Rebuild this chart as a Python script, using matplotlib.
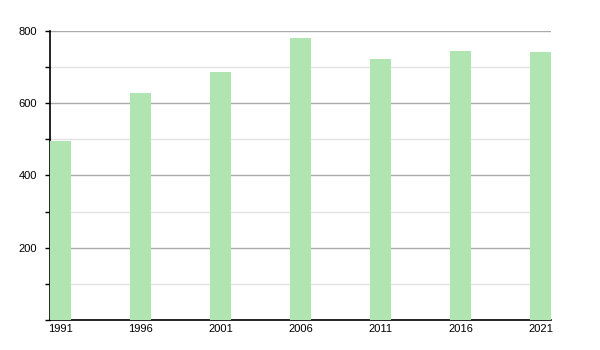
import matplotlib.pyplot as plt
from matplotlib.ticker import MultipleLocator

years = [1991, 1996, 2001, 2006, 2011, 2016, 2021]
population = [495, 628, 686, 781, 722, 745, 741]

plt.rcParams['font.family'] = ['Liberation Sans', 'DejaVu Sans']
plt.rcParams['font.size'] = 8

fig = plt.figure(figsize=(6, 3.5), dpi=100)
ax = fig.add_axes([50 / 600, 1 - 320 / 350, 501 / 600, 289.3 / 350])

bar_w = 21 / 16
ax.bar(years, population, width=bar_w, color='#b0e4b0', zorder=3)

ax.set_xlim(years[0] - bar_w / 2, years[-1] + bar_w / 2)
ax.set_ylim(0, 800)
ax.set_xticks(years)
ax.set_xticklabels([str(y) for y in years])
ax.tick_params(axis='x', length=0, pad=3)

ax.yaxis.set_major_locator(MultipleLocator(200))
ax.yaxis.set_minor_locator(MultipleLocator(100))
ax.set_yticks([200, 400, 600, 800])
# tick length / pad are in points (1 px = 0.72 pt at 100 dpi)
ax.tick_params(axis='y', which='major', length=3.6, width=1, pad=5.8)
ax.tick_params(axis='y', which='minor', length=3.6, width=1)

ax.grid(axis='y', which='major', color='#aaaaaa', linewidth=1, zorder=0)
ax.grid(axis='y', which='minor', color='#e2e2e2', linewidth=1, zorder=0)

for s in ['top', 'right']:
    ax.spines[s].set_visible(False)
ax.spines['left'].set_color('black')
ax.spines['bottom'].set_color('black')
ax.spines['left'].set_linewidth(1.2)
ax.spines['bottom'].set_linewidth(1.2)

fig.savefig('out.png', dpi=100)
